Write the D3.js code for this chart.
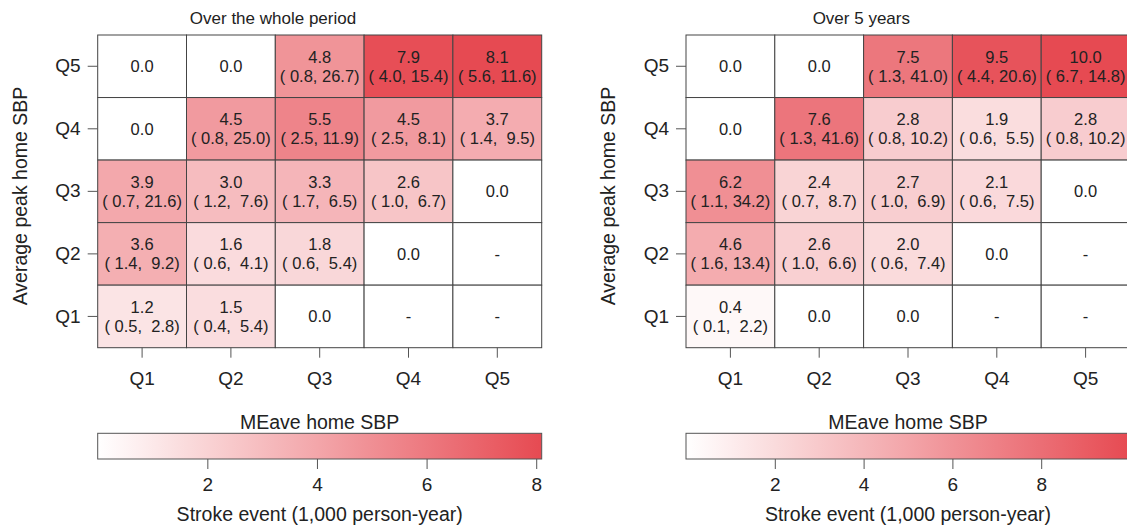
<!DOCTYPE html>
<html lang="en">
<head>
    <meta charset="utf-8">
    <title>Stroke heatmap</title>
    <style>
        body{ margin:0; background:#fff; }
        svg{ display:block; font-family:"Liberation Sans", Arial, sans-serif; }
    </style>
</head>
<body>
<script src="https://cdnjs.cloudflare.com/ajax/libs/d3/7.9.0/d3.min.js"></script>
<script>

// quintile labels
const rowLabels = ["Q5", "Q4", "Q3", "Q2", "Q1"];   // average peak home SBP (top to bottom)
const colLabels = ["Q1", "Q2", "Q3", "Q4", "Q5"];   // MEave home SBP

// over the whole period: rate, lower CI, upper CI (null = "-")
const wholeRate = [
    [0.0, 0.0, 4.8, 7.9, 8.1],
    [0.0, 4.5, 5.5, 4.5, 3.7],
    [3.9, 3.0, 3.3, 2.6, 0.0],
    [3.6, 1.6, 1.8, 0.0, null],
    [1.2, 1.5, 0.0, null, null]
];
const wholeLow = [
    [null, null, 0.8, 4.0, 5.6],
    [null, 0.8, 2.5, 2.5, 1.4],
    [0.7, 1.2, 1.7, 1.0, null],
    [1.4, 0.6, 0.6, null, null],
    [0.5, 0.4, null, null, null]
];
const wholeHigh = [
    [null, null, 26.7, 15.4, 11.6],
    [null, 25.0, 11.9, 8.1, 9.5],
    [21.6, 7.6, 6.5, 6.7, null],
    [9.2, 4.1, 5.4, null, null],
    [2.8, 5.4, null, null, null]
];

// over 5 years
const fiveRate = [
    [0.0, 0.0, 7.5, 9.5, 10.0],
    [0.0, 7.6, 2.8, 1.9, 2.8],
    [6.2, 2.4, 2.7, 2.1, 0.0],
    [4.6, 2.6, 2.0, 0.0, null],
    [0.4, 0.0, 0.0, null, null]
];
const fiveLow = [
    [null, null, 1.3, 4.4, 6.7],
    [null, 1.3, 0.8, 0.6, 0.8],
    [1.1, 0.7, 1.0, 0.6, null],
    [1.6, 1.0, 0.6, null, null],
    [0.1, null, null, null, null]
];
const fiveHigh = [
    [null, null, 41.0, 20.6, 14.8],
    [null, 41.6, 10.2, 5.5, 10.2],
    [34.2, 8.7, 6.9, 7.5, null],
    [13.4, 6.6, 7.4, null, null],
    [2.2, null, null, null, null]
];

const barTicks = [2, 4, 6, 8];
const wholeMax = 8.1;
const fiveMax = 10.0;

const width = 1127;
const height = 528;
const gridW = 444, gridH = 312.7, gridTop = 35;
const lowColor = "#ffffff", highColor = "#e64a52";
const textColor = "#222";

const svg = d3.select("body")
    .append("svg")
    .attr("width", width)
    .attr("height", height);

const defs = svg.append("defs");

const panels = [
    {id: "whole", title: "Over the whole period", rate: wholeRate, low: wholeLow, high: wholeHigh, max: wholeMax, left: 97.7},
    {id: "five", title: "Over 5 years", rate: fiveRate, low: fiveLow, high: fiveHigh, max: fiveMax, left: 686}
];

// pad like R's format(): "( 1.4,  9.2)"
const fmt = d3.format(".1f");
const pad = (v, n) => fmt(v).padStart(n, " ");

panels.forEach(p => {
    const g = svg.append("g").attr("transform", `translate(${p.left},0)`);

    const x = d3.scaleBand().domain(colLabels).range([0, gridW]);
    const y = d3.scaleBand().domain(rowLabels).range([gridTop, gridTop + gridH]);
    const color = d3.scaleLinear().domain([0, p.max]).range([lowColor, highColor]).clamp(true);

    const cells = [];
    rowLabels.forEach((r, i) => colLabels.forEach((c, j) => {
        cells.push({row: r, col: c, v: p.rate[i][j], lo: p.low[i][j], hi: p.high[i][j]});
    }));

    // title
    g.append("text")
        .attr("x", 175.3)
        .attr("y", 23.5)
        .attr("text-anchor", "middle")
        .attr("font-size", "17px")
        .attr("fill", textColor)
        .text(p.title);

    const cell = g.selectAll(".cell")
        .data(cells)
        .enter()
        .append("g")
        .attr("class", "cell")
        .attr("transform", d => `translate(${x(d.col)},${y(d.row)})`);

    cell.append("rect")
        .attr("width", x.bandwidth())
        .attr("height", y.bandwidth())
        .attr("fill", d => d.v == null ? "#fff" : color(d.v))
        .attr("stroke", "#444")
        .attr("stroke-width", 1);

    cell.each(function(d) {
        const c = d3.select(this);
        const cx = x.bandwidth() / 2, cy = y.bandwidth() / 2;
        const t = c.append("text")
            .attr("text-anchor", "middle")
            .attr("dominant-baseline", "central")
            .attr("font-size", "16.5px")
            .attr("fill", textColor)
            .style("white-space", "pre")
            .attr("x", cx);
        if (d.v == null) {
            t.attr("y", cy).text("-");
        } else if (d.lo == null) {
            t.attr("y", cy).text(fmt(d.v));
        } else {
            t.attr("y", cy - 9.5).text(fmt(d.v));
            c.append("text")
                .attr("text-anchor", "middle")
                .attr("dominant-baseline", "central")
                .attr("font-size", "16.5px")
                .attr("fill", textColor)
                .style("white-space", "pre")
                .attr("x", cx)
                .attr("y", cy + 9.5)
                .text(`(${pad(d.lo, 4)}, ${pad(d.hi, 4)})`);
        }
    });

    // axes
    const yAxis = g.append("g")
        .call(d3.axisLeft(y).tickSize(10).tickPadding(7));
    const xAxis = g.append("g")
        .attr("transform", `translate(0,${gridTop + gridH})`)
        .call(d3.axisBottom(x).tickSize(10).tickPadding(14));
    [yAxis, xAxis].forEach(a => {
        a.select(".domain").remove();
        a.selectAll("line").attr("stroke", "#555");
        a.selectAll("text")
            .attr("fill", textColor)
            .style("font-size", "19px")
            .style("font-family", "'Liberation Sans', Arial, sans-serif");
    });

    g.append("text")
        .attr("transform", `translate(${27 - p.left + (p.id === "five" ? 588.3 : 0)},196) rotate(-90)`)
        .attr("text-anchor", "middle")
        .attr("font-size", "19.5px")
        .attr("fill", textColor)
        .text("Average peak home SBP");

    g.append("text")
        .attr("x", gridW / 2)
        .attr("y", 429)
        .attr("text-anchor", "middle")
        .attr("font-size", "19.5px")
        .attr("fill", textColor)
        .text("MEave home SBP");

    // colour bar
    const bx = d3.scaleLinear().domain([0, p.max]).range([0, gridW]);
    const grad = defs.append("linearGradient")
        .attr("id", "grad-" + p.id)
        .attr("x1", "0%").attr("x2", "100%");
    grad.selectAll("stop")
        .data(d3.range(0, 1.0001, 0.1))
        .enter()
        .append("stop")
        .attr("offset", d => d * 100 + "%")
        .attr("stop-color", d => color(d * p.max));

    const barTop = 433.3, barH = 25.7;
    g.append("rect")
        .attr("x", bx(0))
        .attr("y", barTop)
        .attr("width", bx(p.max) - bx(0))
        .attr("height", barH)
        .attr("fill", `url(#grad-${p.id})`)
        .attr("stroke", "#555")
        .attr("stroke-width", 1);

    const bAxis = g.append("g")
        .attr("transform", `translate(0,${barTop + barH})`)
        .call(d3.axisBottom(bx).tickValues(barTicks).tickSize(10).tickPadding(9).tickFormat(d3.format("d")));
    bAxis.select(".domain").remove();
    bAxis.selectAll("line").attr("stroke", "#555");
    bAxis.selectAll("text")
        .attr("fill", textColor)
        .style("font-size", "19px")
        .style("font-family", "'Liberation Sans', Arial, sans-serif");

    g.append("text")
        .attr("x", gridW / 2)
        .attr("y", 521)
        .attr("text-anchor", "middle")
        .attr("font-size", "19.5px")
        .attr("fill", textColor)
        .text("Stroke event (1,000 person-year)");
});

</script>
</body>
</html>
